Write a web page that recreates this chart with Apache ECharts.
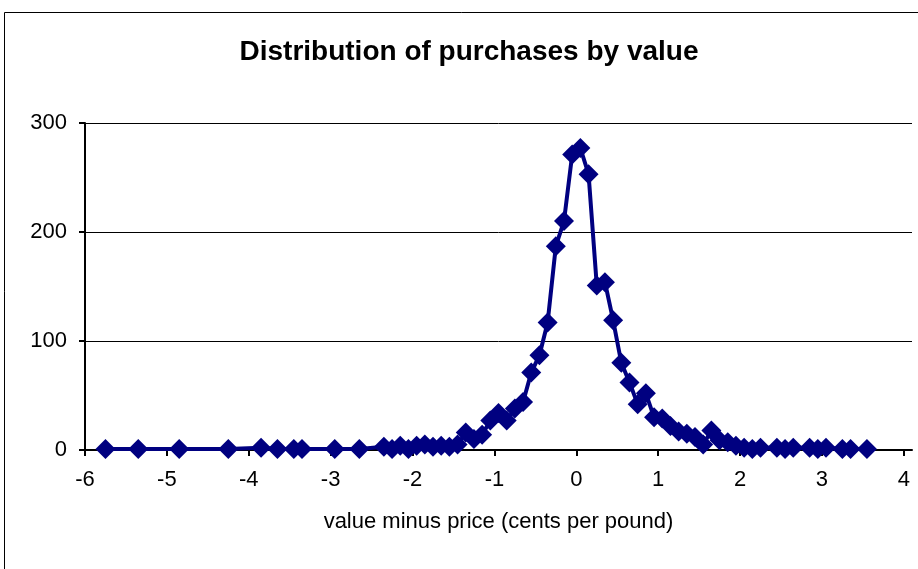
<!DOCTYPE html>
<html>
<head>
<meta charset="utf-8">
<script src="https://cdn.jsdelivr.net/npm/echarts@6/dist/echarts.min.js"></script>
<style>
  html, body { margin: 0; padding: 0; background: #fff; }
  #chart { width: 918px; height: 569px; }
</style>
</head>
<body>
<div id="chart"></div>
<script>
var chart = echarts.init(document.getElementById('chart'))

// bin centres (cents per pound) and purchase counts
var valueMinusPrice = [
    -5.75, -5.35, -4.85, -4.25, -3.85, -3.65, -3.45, -3.35, -2.95, -2.65,
    -2.35, -2.25, -2.15, -2.05, -1.95, -1.85, -1.75, -1.65, -1.55, -1.45,
    -1.35, -1.25, -1.15, -1.05, -0.95, -0.85, -0.75, -0.65, -0.55, -0.45,
    -0.35, -0.25, -0.15, -0.05, 0.05, 0.15, 0.25, 0.35, 0.45, 0.55,
    0.65, 0.75, 0.85, 0.95, 1.05, 1.15, 1.25, 1.35, 1.45, 1.55,
    1.65, 1.75, 1.85, 1.95, 2.05, 2.15, 2.25, 2.45, 2.55, 2.65,
    2.85, 2.95, 3.05, 3.25, 3.35, 3.55
]
var purchases = [
    1, 1, 1, 1, 2, 1, 1, 1, 1, 1,
    3, 1, 4, 1, 4, 5, 3, 4, 3, 5,
    16, 10, 14, 27, 34, 27, 38, 44, 71, 87,
    117, 187, 210, 271, 277, 253, 151, 154, 119, 80,
    62, 42, 52, 30, 29, 22, 17, 15, 12, 5,
    18, 9, 7, 4, 2, 1, 2, 2, 1, 2,
    2, 1, 2, 1, 1, 1
]
var xTicks = [-6, -5, -4, -3, -2, -1, 0, 1, 2, 3, 4]

var points = []
for (var i = 0; i < valueMinusPrice.length; i++) {
    points.push([valueMinusPrice[i], purchases[i]])
}

var font = 'Liberation Sans, Arial, sans-serif'

var options = {
    animation: false,
    backgroundColor: '#fff',
    title: {
        text: 'Distribution of purchases by value',
        left: 464,
        top: 33,
        textAlign: 'center',
        textStyle: {
            fontFamily: font,
            fontSize: 28,
            fontWeight: 'bold',
            color: '#000'
        }
    },
    graphic: [{
        type: 'rect',
        shape: { x: 4.5, y: 12.5, width: 1000, height: 1000 },
        style: { fill: 'none', stroke: '#000', lineWidth: 1 },
        silent: true,
        z: -1
    }],
    grid: {
        left: 85,
        top: 123,
        right: 6,
        bottom: 119,
        containLabel: false
    },
    xAxis: {
        type: 'value',
        min: -6,
        max: 4.1,
        interval: 1,
        name: 'value minus price (cents per pound)',
        nameLocation: 'middle',
        nameGap: 61,
        nameTextStyle: { fontFamily: font, fontSize: 22, color: '#000' },
        axisLine: { onZero: false, lineStyle: { color: '#000', width: 2 } },
        axisTick: { show: true, inside: false, length: 6, customValues: xTicks, lineStyle: { color: '#000', width: 2 } },
        axisLabel: { customValues: xTicks, margin: 19, fontFamily: font, fontSize: 22, color: '#000' },
        splitLine: { show: false }
    },
    yAxis: {
        type: 'value',
        min: 0,
        max: 300,
        interval: 100,
        axisLine: { show: true, onZero: false, lineStyle: { color: '#000', width: 2 } },
        axisTick: { show: true, inside: false, length: 6, lineStyle: { color: '#000', width: 2 } },
        axisLabel: { margin: 18, fontFamily: font, fontSize: 22, color: '#000' },
        splitLine: { show: true, lineStyle: { color: '#000', width: 1 } }
    },
    series: [{
        type: 'line',
        data: points,
        symbol: 'diamond',
        symbolSize: 20,
        showAllSymbol: true,
        lineStyle: { color: '#000080', width: 4 },
        itemStyle: { color: '#000080', borderWidth: 0 },
        z: 3
    }]
}

chart.setOption(options)
</script>
</body>
</html>
